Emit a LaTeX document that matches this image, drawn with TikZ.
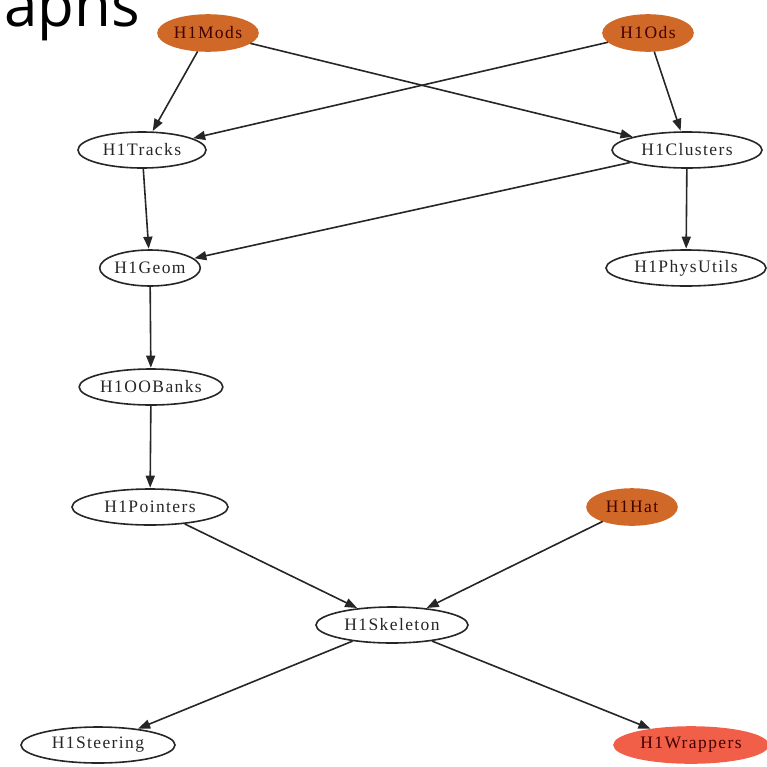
\documentclass[tikz,border=0pt]{standalone}
\usepackage{fontspec}
\usetikzlibrary{shapes.geometric,arrows.meta}
\newfontfamily\gvfont[LetterSpace=8]{Liberation Serif}
\newfontfamily\titlefont{Open Sans}
\definecolor{modcol}{RGB}{208,104,40}
\definecolor{wrapcol}{RGB}{241,95,72}
\tikzset{
  gv/.style={ellipse, draw=black!85, line width=1.6pt, inner sep=0pt, minimum height=36pt,
    font=\gvfont\fontsize{17.5}{17.5}\selectfont, text=black!85},
  hot/.style={gv, fill=modcol, draw=modcol, text={black!75!red}},
  wrap/.style={gv, fill=wrapcol, draw=wrapcol, text={black!75!red}},
  dep/.style={line width=1.6pt, draw=black!85, -{Triangle[length=12pt,width=9pt]}, shorten >=0.5pt},
}
\begin{document}
\begin{tikzpicture}[x=1pt,y=-1pt]
\useasboundingbox (0,0) rectangle (767,766);
\clip (0,0) rectangle (767,766);
\node[anchor=base east, inner sep=0pt, font=\titlefont\fontsize{60}{60}\selectfont] (title) at (140,26) {aphs};
\node[hot, minimum width=100pt] (mods) at (208,33) {H1Mods};
\node[hot, minimum width=90pt] (ods) at (648,33) {H1Ods};
\node[gv, minimum width=128pt] (tracks) at (142,150) {H1Tracks};
\node[gv, minimum width=150pt] (clusters) at (687,150) {H1Clusters};
\node[gv, minimum width=100pt] (geom) at (150,268) {H1Geom};
\node[gv, minimum width=160pt] (phys) at (686,268) {H1PhysUtils};
\node[gv, minimum width=142pt] (oob) at (151,387) {H1OOBanks};
\node[gv, minimum width=156pt] (ptr) at (150,507) {H1Pointers};
\node[hot, minimum width=90pt] (hat) at (632,507) {H1Hat};
\node[gv, minimum width=152pt] (skel) at (392,625) {H1Skeleton};
\node[gv, minimum width=154pt] (steer) at (98,745) {H1Steering};
\node[wrap, minimum width=154pt] (wrapn) at (691,745) {H1Wrappers};
\draw[dep] (mods) -- (tracks);
\draw[dep] (mods) -- (clusters);
\draw[dep] (ods) -- (tracks);
\draw[dep] (ods) -- (clusters);
\draw[dep] (tracks) -- (geom);
\draw[dep] (clusters) -- (geom);
\draw[dep] (clusters) -- (phys);
\draw[dep] (geom) -- (oob);
\draw[dep] (oob) -- (ptr);
\draw[dep] (ptr) -- (skel);
\draw[dep] (hat) -- (skel);
\draw[dep] (skel) -- (steer);
\draw[dep] (skel) -- (wrapn);
\end{tikzpicture}
\end{document}
